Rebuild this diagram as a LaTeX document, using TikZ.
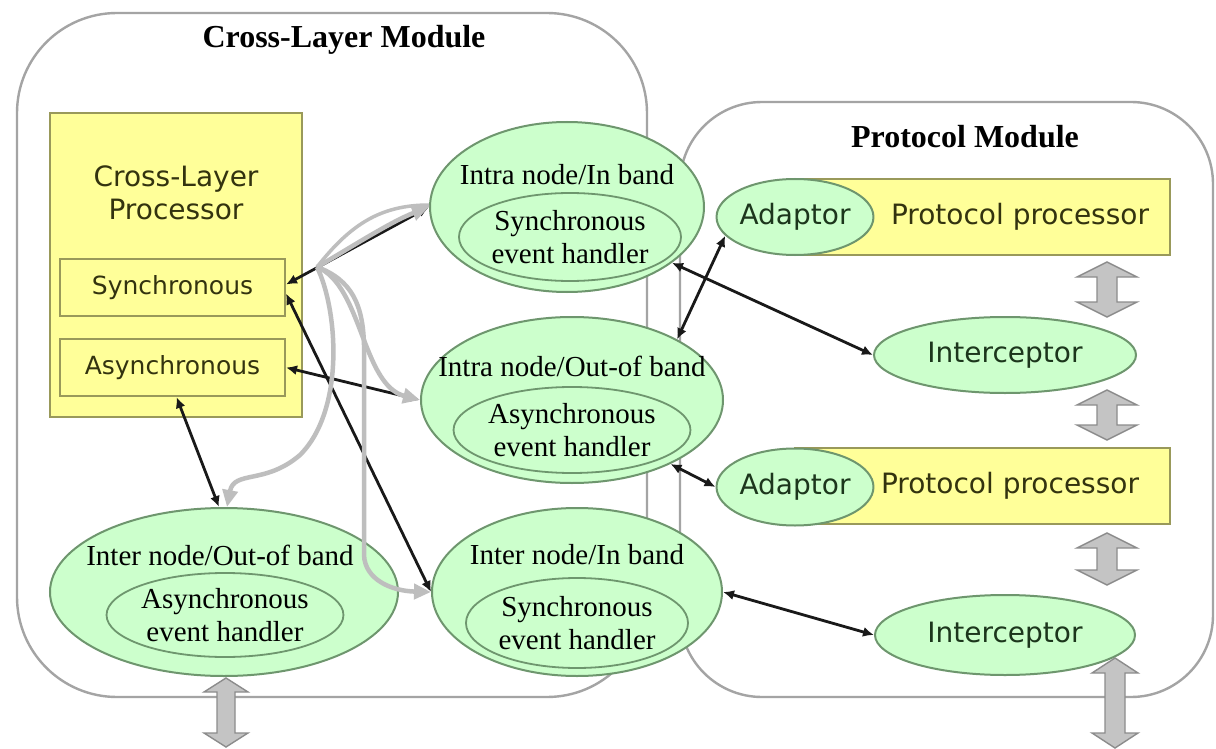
\documentclass[tikz,border=0pt]{standalone}
\usepackage{fontspec}
\setmainfont{Liberation Serif}
\newfontfamily\boxfont{DejaVu Sans}
\usetikzlibrary{shapes.geometric,arrows.meta}

\definecolor{hfill}{HTML}{CCFFCC}
\definecolor{hdraw}{HTML}{6E966E}
\definecolor{yfill}{HTML}{FFFF99}
\definecolor{ydraw}{HTML}{99995A}
\definecolor{frameg}{HTML}{A4A4A4}
\definecolor{linkg}{HTML}{BEBEBE}
\definecolor{blockg}{HTML}{C4C4C4}
\definecolor{blockd}{HTML}{8C8C8C}
\definecolor{greentext}{HTML}{1C361C}
\definecolor{olivetext}{HTML}{33330F}

% vertical double-headed block arrow: x, top, bottom, head half-width, shaft half-width, head length
\newcommand\gblock[6]{%
  \filldraw[fill=blockg, draw=blockd, line width=1.4pt]
    (#1,#2) -- (#1+#4,#2+#6) -- (#1+#5,#2+#6) -- (#1+#5,#3-#6) -- (#1+#4,#3-#6)
    -- (#1,#3) -- (#1-#4,#3-#6) -- (#1-#5,#3-#6) -- (#1-#5,#2+#6) -- (#1-#4,#2+#6) -- cycle;}

\begin{document}
\begin{tikzpicture}[x=1pt,y=-1pt,
  modframe/.style={draw=frameg, line width=2.4pt, rounded corners=#1, inner sep=0pt},
  handler/.style={ellipse, draw=hdraw, fill=hfill, line width=2pt, inner sep=0pt},
  innerh/.style={ellipse, draw=hdraw, line width=1.8pt, inner sep=0pt, align=center,
    font=\fontsize{29}{33}\selectfont},
  ylw/.style={draw=ydraw, fill=yfill, line width=2pt, inner sep=0pt},
  lbl/.style={font=\fontsize{29}{33}\selectfont},
  sans/.style={font=\boxfont\fontsize{28}{33}\selectfont, text=olivetext},
  gsans/.style={font=\boxfont\fontsize{28}{33}\selectfont, text=greentext},
  small/.style={font=\boxfont\fontsize{25}{30}\selectfont, text=olivetext},
  modtitle/.style={font=\bfseries\fontsize{32}{36}\selectfont},
  link/.style={draw=black!90, line width=2.8pt,
    {Latex[length=11pt,width=10pt]}-{Latex[length=11pt,width=10pt]}},
  glink/.style={draw=linkg, line width=4.5pt, -{Triangle[length=17pt,width=15pt]}},
  gplain/.style={draw=linkg, line width=3.5pt},
]
\useasboundingbox (0,0) rectangle (1216,749);
\fill[white] (0,0) rectangle (1216,749);

% module frames
\node[modframe=100pt, minimum width=630pt, minimum height=684pt] (clm) at (332,355) {};
\node[modframe=82pt, minimum width=533pt, minimum height=595pt] (pm) at (946.5,399.5) {};
\node[modtitle] (clmT) at (344,40) {Cross-Layer Module};
\node[modtitle] (pmT) at (965,137) {Protocol Module};

% cross-layer processor
\node[ylw, minimum width=252pt, minimum height=304pt] (clp) at (176,265) {};
\node[sans, align=center] (clpT) at (176,193) {Cross-Layer\\Processor};
\node[ylw, small, minimum width=225pt, minimum height=57pt] (sync) at (172.5,287.5) {Synchronous};
\node[ylw, small, minimum width=225pt, minimum height=57pt] (async) at (172.5,367.5) {Asynchronous};

% event handlers
\node[handler, minimum width=274pt, minimum height=170pt] (intraIn) at (567,207) {};
\node[lbl] (intraInT) at (567,175) {Intra node/In band};
\node[innerh, minimum width=216pt, minimum height=88pt] (intraInH) at (570,237) {Synchronous\\event handler};

\node[handler, minimum width=302pt, minimum height=166pt] (intraOut) at (572,400) {};
\node[lbl] (intraOutT) at (572,366) {Intra node/Out-of band};
\node[innerh, minimum width=226pt, minimum height=86pt] (intraOutH) at (572,430) {Asynchronous\\event handler};

\node[handler, minimum width=290pt, minimum height=168pt] (interIn) at (577,592) {};
\node[lbl] (interInT) at (577,555) {Inter node/In band};
\node[innerh, minimum width=216pt, minimum height=90pt] (interInH) at (577,623) {Synchronous\\event handler};

\node[handler, minimum width=348pt, minimum height=168pt] (interOut) at (224,592) {};
\node[lbl] (interOutT) at (220,555) {Inter node/Out-of band};
\node[innerh, minimum width=230pt, minimum height=84pt] (interOutH) at (225,615) {Asynchronous\\event handler};

% protocol stack
\node[ylw, minimum width=375pt, minimum height=76pt] (pp1) at (982.5,217) {};
\node[sans] (pp1T) at (1020,217) {Protocol processor};
\node[handler, gsans, minimum width=140pt, minimum height=76pt] (ad1) at (795,217) {Adaptor};
\node[handler, gsans, minimum width=262pt, minimum height=76pt] (ic1) at (1005,355) {Interceptor};
\node[ylw, minimum width=375pt, minimum height=76pt] (pp2) at (982.5,486) {};
\node[sans] (pp2T) at (1010,486) {Protocol processor};
\node[handler, gsans, minimum width=140pt, minimum height=77pt] (ad2) at (795,487) {Adaptor};
\node[handler, gsans, minimum width=260pt, minimum height=80pt] (ic2) at (1005,635) {Interceptor};

% block arrows between layers
\gblock{1107}{262}{317}{30}{10}{15}
\gblock{1107}{390}{440}{30}{10}{15}
\gblock{1107}{533}{585}{30}{10}{15}
\gblock{1115}{658}{748}{23}{10}{15}
\gblock{226}{678}{747}{22}{9}{14}

% black links
\draw[link] ([yshift=3pt]sync.east) -- (intraIn.west);
\draw[link] ([yshift=-6pt]sync.east) -- (interIn.west);
\draw[link] (async.east) -- (intraOut.west);
\draw[link] ([xshift=4pt]async.south) -- ([xshift=-5pt]interOut.north);
\draw[link] (intraIn.-28) -- (ic1.west);
\draw[link] (ad1.195) -- (intraOut.30);
\draw[link] (intraOut.-33) -- (ad2.west);
\draw[link] (interIn.east) -- (ic2.west);

% grey fan-out from the synchronous port
\coordinate (hub) at (317,267);
\draw[gplain] (hub) .. controls (350,225) and (380,205) .. ([yshift=2pt]intraIn.west);
\draw[glink] (hub) .. controls (350,248) and (390,222) .. (intraIn.west);
\draw[glink] (hub) .. controls (362,285) and (362,385) .. (intraOut.west);
\draw[glink] (hub) .. controls (338,310) and (345,410) .. (300,455)
  .. controls (265,485) and (234,470) .. ([xshift=3pt]interOut.north);
\draw[glink] (hub) .. controls (352,280) and (363,305) .. (364,345)
  -- (364,555) .. controls (365,580) and (392,591) .. (interIn.west);
\end{tikzpicture}
\end{document}
